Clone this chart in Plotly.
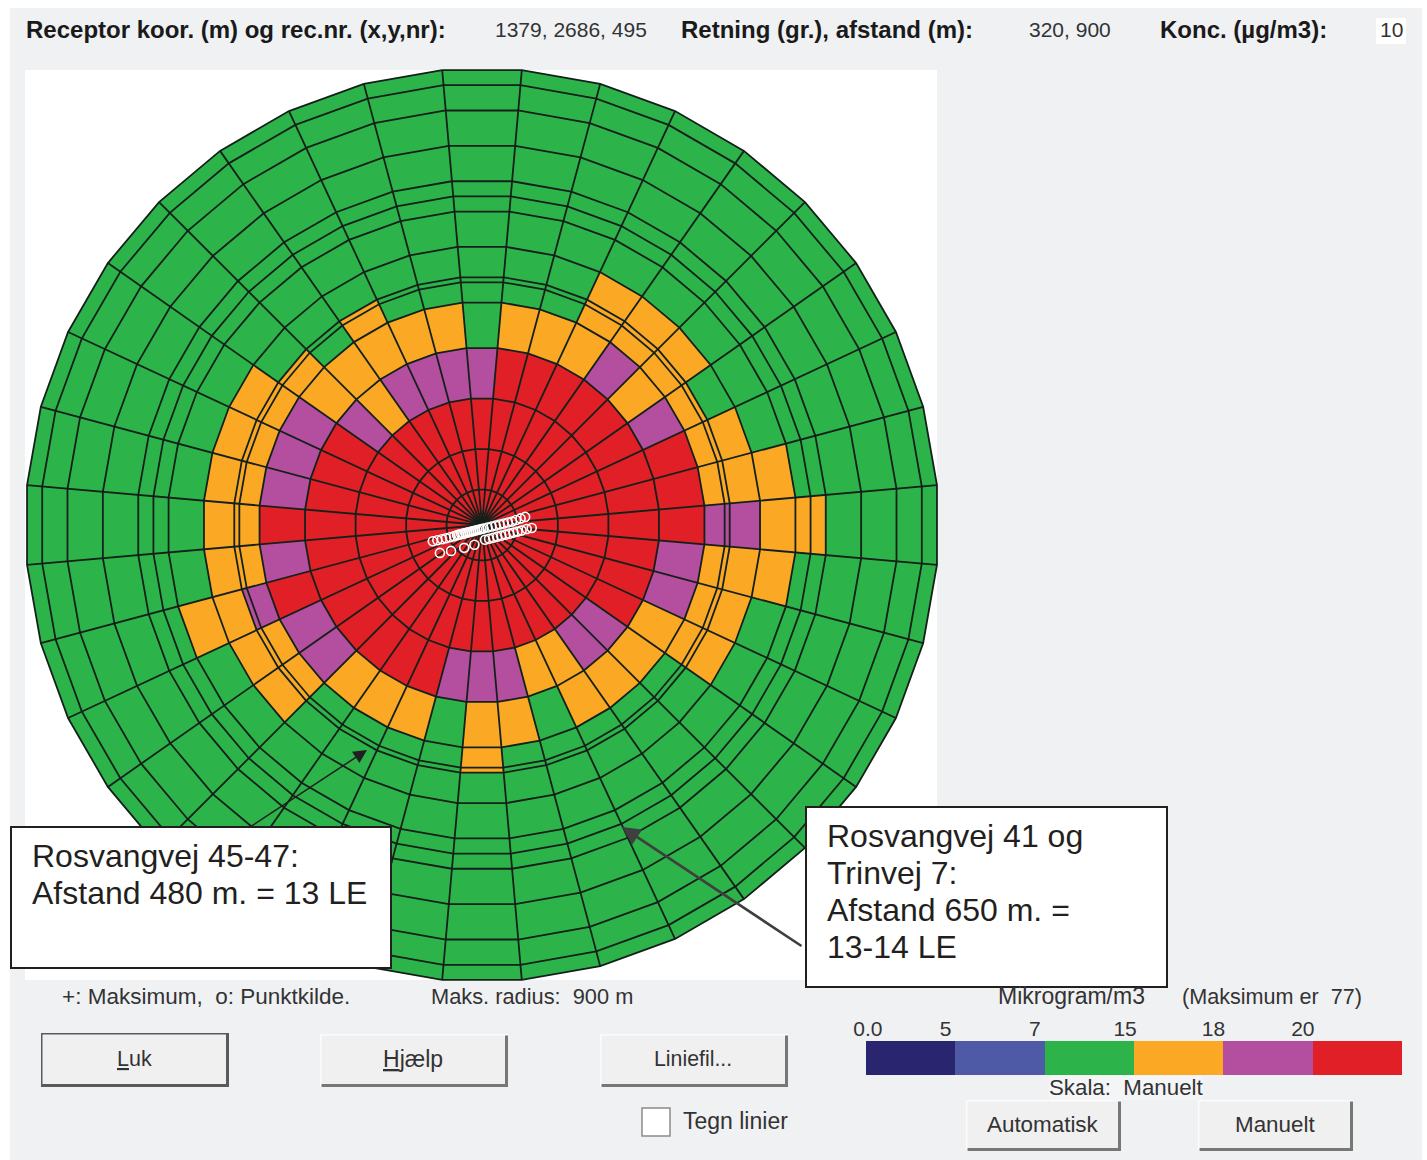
import math
import plotly.graph_objects as go

W, H = 1427, 1160

# ---- data -----------------------------------------------------------------
sector_dirs = list(range(0, 360, 10))
ring_m = [70, 150, 250, 350, 440, 480, 490, 550, 620, 650, 680, 750, 820, 870, 900]
# outer radius (m) of each colour band per 10 degree sector, from north clockwise
red_to = [250, 350, 350, 350, 350, 350, 350, 440, 440, 440, 350, 350,
          350, 250, 250, 250, 250, 250, 250, 250, 350, 350, 350, 350,
          350, 440, 350, 440, 350, 350, 350, 250, 250, 250, 250, 250]
purple_to = [350, 350, 350, 350, 440, 350, 440, 440, 440, 550, 440, 440,
             350, 350, 350, 250, 250, 350, 350, 350, 350, 350, 350, 440,
             440, 490, 440, 440, 440, 440, 440, 350, 250, 350, 350, 350]
orange_to = [350, 440, 440, 550, 550, 550, 490, 550, 620, 680, 620, 550,
             550, 440, 440, 440, 350, 440, 490, 350, 440, 440, 440, 550,
             550, 620, 550, 550, 550, 550, 550, 490, 440, 490, 440, 440]
max_radius_m = 900

class_labels = ["0.0", "5", "7", "15", "18", "20"]
class_colors = ["#29266f", "#4f5aa6", "#2cb34a", "#fba924", "#b34f9e", "#e01f26"]

# point sources, metres east / north of the centre
src_east = [-97, -88, -79, -71, -63, -55, -49, -45, -41, -37, -33, -29, -25, -21, -17, -13, -9, -5, -1,
            3, 11, 19, 27, 35, 43, 51, 59, 67, 76, 85,
            -83, -61, -35, -15, 6, 14, 22, 30, 38, 46, 54, 62, 70, 78, 88, 98]
src_north = [-32, -30, -28, -26, -24, -22, -20, -19, -18, -17, -16, -15, -14, -13, -12, -11, -10, -9, -8,
             -7, -5, -3, -1, 1, 3, 5, 7, 10, 13, 16,
             -55, -51, -45, -39, -29, -27, -25, -23, -21, -19, -17, -15, -13, -11, -8, -6]

# ---- polar chart ----------------------------------------------------------
CX, CY = 482, 525
PX_PER_M = 456.7 / max_radius_m
R_PX = 462
half = 5


def band_polys(inner, outer):
    th, rr = [], []
    for a, r0, r1 in zip(sector_dirs, inner, outer):
        if r1 <= r0:
            continue
        th += [a - half, a + half, a + half, a - half, a - half, None]
        rr += [r0, r0, r1, r1, r0, None]
    return th, rr


n = len(sector_dirs)
bands = [
    (class_colors[5], [0] * n, red_to),
    (class_colors[4], red_to, purple_to),
    (class_colors[3], purple_to, orange_to),
    (class_colors[2], orange_to, [max_radius_m] * n),
]

fig = go.Figure()
for col, inner, outer in bands:
    th, rr = band_polys(inner, outer)
    fig.add_trace(go.Scatterpolar(theta=th, r=rr, mode="lines", fill="toself", fillcolor=col,
                                  line=dict(width=0, color=col), hoverinfo="skip", showlegend=False))

ring_th, ring_r = [], []
for rm in ring_m:
    for a in sector_dirs + [360]:
        ring_th.append(a - half)
        ring_r.append(rm)
    ring_th.append(None)
    ring_r.append(None)
spoke_th, spoke_r = [], []
for a in sector_dirs:
    spoke_th += [a - half, a - half, None]
    spoke_r += [0, max_radius_m, None]
for th, rr in ((ring_th, ring_r), (spoke_th, spoke_r)):
    fig.add_trace(go.Scatterpolar(theta=th, r=rr, mode="lines", line=dict(color="#14201a", width=1.8),
                                  hoverinfo="skip", showlegend=False))

src_r = [math.hypot(e, nn) for e, nn in zip(src_east, src_north)]
src_th = [math.degrees(math.atan2(e, nn)) % 360 for e, nn in zip(src_east, src_north)]
fig.add_trace(go.Scatterpolar(theta=src_th, r=src_r, mode="markers",
                              marker=dict(symbol="circle-open", size=9, color="white", line=dict(width=1.6, color="white")),
                              hoverinfo="skip", showlegend=False))

# colour scale as a stacked bar on its own axes
for i, col in enumerate(class_colors):
    fig.add_trace(go.Bar(orientation="h", y=[0], x=[1], base=[i], width=1, marker=dict(color=col, line=dict(width=0)),
                         hoverinfo="skip", showlegend=False, xaxis="x", yaxis="y"))


def px(x):
    return x / W


def py(y):
    return 1 - y / H


def rect(x0, y0, x1, y1, fill=None, line=None, lw=0, layer="above"):
    return dict(type="rect", xref="paper", yref="paper", x0=px(x0), x1=px(x1), y0=py(y0), y1=py(y1),
                fillcolor=fill if fill else "rgba(0,0,0,0)", line=dict(color=line if line else "rgba(0,0,0,0)", width=lw),
                layer=layer)


shapes = [
    rect(10, 8, 1422, 1160, fill="#f0f1f3", layer="below"),
    rect(25, 70, 937, 980, fill="#ffffff", layer="below"),
    rect(1376, 18, 1406, 44, fill="#ffffff", layer="below"),
    rect(1049, 1076, 1203, 1100, fill="#f4f5f6", layer="above"),
    rect(11, 827, 391, 968, fill="#ffffff", line="#231f20", lw=2),
    rect(806, 807, 1167, 987, fill="#ffffff", line="#231f20", lw=2),
    rect(642, 1108, 670, 1136, fill="#ffffff", line="#8a8a8a", lw=1.5),
]


def button(x0, y0, x1, y1, heavy=False):
    out = [rect(x0, y0, x1, y1, fill="#f0f0f0")]
    dark = "#5a5a5a" if heavy else "#777777"
    w = 3
    out.append(rect(x0, y1 - w, x1, y1, fill=dark))
    out.append(rect(x1 - w, y0, x1, y1, fill=dark))
    out.append(rect(x0, y0, x1, y0 + 1.5, fill="#5a5a5a" if heavy else "#fbfbfb"))
    out.append(rect(x0, y0, x0 + 1.5, y1, fill="#5a5a5a" if heavy else "#fbfbfb"))
    return out


shapes += button(41, 1033, 229, 1087, heavy=True)
shapes += button(320, 1034, 508, 1087)
shapes += button(600, 1034, 788, 1087)
shapes += button(966, 1100, 1121, 1151)
shapes += button(1198, 1100, 1353, 1151)


def txt(x, y, s, size=21, anchor="left", color="#333333", bold=False, font="Liberation Sans"):
    if anchor == "left":
        x -= 2
    return dict(xref="paper", yref="paper", x=px(x), y=py(y), text=f"<b>{s}</b>" if bold else s, showarrow=False,
                xanchor=anchor, yanchor="middle", align="left",
                font=dict(family=font, size=size, color=color))


def arrow(x0, y0, x1, y1, color, lw, size):
    return dict(xref="paper", yref="paper", axref="pixel", ayref="pixel", x=px(x1), y=py(y1), ax=x0 - x1, ay=y0 - y1,
                text="", showarrow=True, arrowhead=2, arrowsize=size, arrowwidth=lw, arrowcolor=color)


anns = [
    txt(26, 30, "Receptor koor. (m) og rec.nr. (x,y,nr):", 24, bold=True, color="#1a1a1a"),
    txt(495, 30, "1379, 2686, 495", 21),
    txt(681, 30, "Retning (gr.), afstand (m):", 24, bold=True, color="#1a1a1a"),
    txt(1029, 30, "320, 900", 21),
    txt(1160, 30, "Konc. (µg/m3):", 24, bold=True, color="#1a1a1a"),
    txt(1380, 30, "10", 21),
    txt(62, 996, "+: Maksimum,  o: Punktkilde.", 22.5),
    txt(431, 996, "Maks. radius:  900 m", 21.8),
    txt(998, 996, "Mikrogram/m3", 23),
    txt(1182, 996, "(Maksimum er  77)", 21.6),
    txt(1049, 1087, "Skala:  Manuelt", 22.3),
    txt(134, 1059, "<u>L</u>uk", 21.5, "center"),
    txt(413, 1059, "<u>H</u>jælp", 23, "center"),
    txt(693, 1059, "Liniefil...", 21.3, "center"),
    txt(1043, 1124, "Automatisk", 22.4, "center"),
    txt(1275, 1124, "Manuelt", 22.4, "center"),
    txt(683, 1121, "Tegn linier", 23),
    txt(32, 856, "Rosvangvej 45-47:", 32, color="#231f20"),
    txt(32, 893, "Afstand 480 m. = 13 LE", 32, color="#231f20"),
    txt(827, 836, "Rosvangvej 41 og", 32, color="#231f20"),
    txt(827, 873, "Trinvej 7:", 32, color="#231f20"),
    txt(827, 910, "Afstand 650 m. =", 32, color="#231f20"),
    txt(827, 947, "13-14 LE", 32, color="#231f20"),
    arrow(250, 827, 367, 750, "#231f20", 1.5, 1.8),
    arrow(803, 947, 622, 827, "#3f3f3f", 2.6, 1.4),
]

fig.update_layout(
    template="none",
    width=W, height=H, margin=dict(l=0, r=0, t=0, b=0, pad=0), autosize=False,
    paper_bgcolor="#ffffff", plot_bgcolor="rgba(0,0,0,0)", showlegend=False,
    barmode="overlay", bargap=0,
    polar=dict(
        domain=dict(x=[px(CX - R_PX), px(CX + R_PX)], y=[py(CY + R_PX), py(CY - R_PX)]),
        bgcolor="rgba(0,0,0,0)",
        radialaxis=dict(visible=False, range=[0, R_PX / PX_PER_M]),
        angularaxis=dict(visible=False, rotation=90, direction="clockwise"),
    ),
    xaxis=dict(domain=[px(866), px(1402)], range=[0, 6], side="top", showgrid=False, zeroline=False, showline=False,
               automargin=False,
               tickmode="array", tickvals=[0.02, 0.89, 1.89, 2.9, 3.89, 4.89], ticktext=class_labels,
               tickfont=dict(family="Liberation Sans", size=21, color="#333333"), ticks=""),
    yaxis=dict(domain=[py(1075), py(1041)], range=[-0.5, 0.5], visible=False, automargin=False),
    shapes=shapes, annotations=anns,
)

fig.write_html("out.html", config={"displayModeBar": False}, post_script="document.body.style.margin='0';")
